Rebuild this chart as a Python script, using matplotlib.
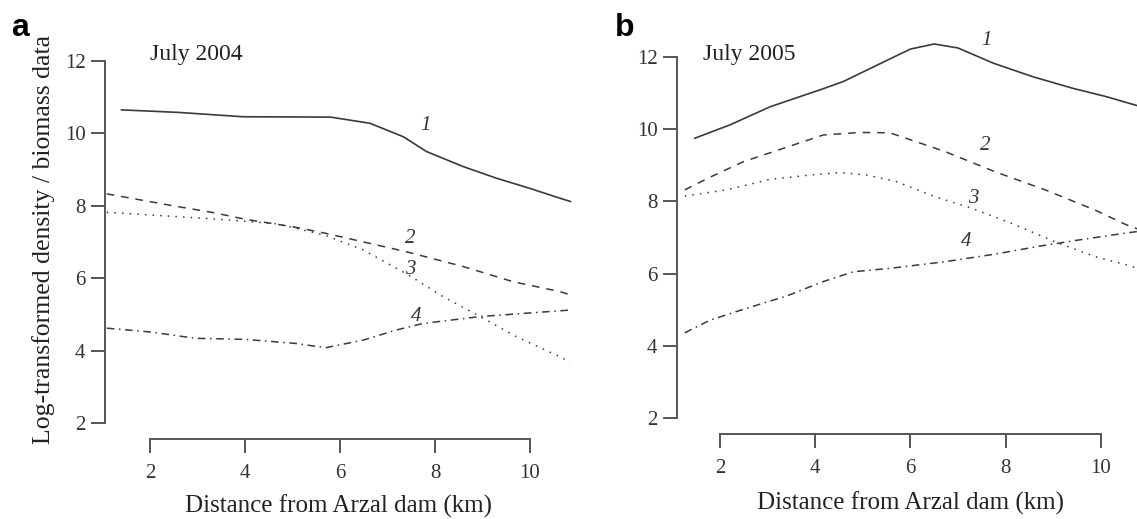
import matplotlib
matplotlib.use("Agg")
import matplotlib.pyplot as plt

plt.rcParams['font.family'] = ['Liberation Serif', 'DejaVu Serif']

# July 2004 (panel a)
xa1 = [1.4, 2.6, 3.96, 5.8, 6.63, 7.33, 7.82, 8.6, 9.3, 10.0, 10.63, 10.85]
ya1 = [10.65, 10.58, 10.46, 10.45, 10.28, 9.91, 9.5, 9.08, 8.76, 8.48, 8.21, 8.12]
xa2 = [1.09, 2.53, 3.3, 4.0, 5.05, 5.7, 7.4, 8.6, 9.65, 10.63, 10.85]
ya2 = [8.33, 7.99, 7.82, 7.63, 7.41, 7.24, 6.73, 6.32, 5.9, 5.63, 5.54]
xa3 = [1.09, 2.59, 3.64, 4.69, 5.7, 6.49, 7.44, 8.17, 8.95, 9.72, 10.63, 10.85]
ya3 = [7.82, 7.7, 7.61, 7.5, 7.18, 6.78, 6.09, 5.49, 4.94, 4.38, 3.83, 3.68]
xa4 = [1.09, 2.04, 2.95, 4.0, 5.05, 5.7, 6.49, 7.19, 7.75, 8.95, 10.63, 10.85]
ya4 = [4.62, 4.51, 4.34, 4.31, 4.2, 4.08, 4.29, 4.57, 4.75, 4.94, 5.1, 5.12]

# July 2005 (panel b)
xb1 = [1.47, 2.21, 3.05, 4.1, 4.59, 5.59, 6.0, 6.5, 7.0, 7.74, 8.58, 9.42, 10.12, 10.85]
yb1 = [9.75, 10.12, 10.62, 11.09, 11.32, 11.96, 12.22, 12.36, 12.25, 11.83, 11.45, 11.13, 10.9, 10.62]
xb2 = [1.26, 1.79, 2.49, 3.4, 4.17, 4.94, 5.57, 6.73, 7.78, 8.83, 9.88, 10.54, 10.85]
yb2 = [8.32, 8.67, 9.1, 9.5, 9.84, 9.91, 9.9, 9.38, 8.82, 8.32, 7.76, 7.35, 7.2]
xb3 = [1.26, 2.14, 3.05, 3.89, 4.52, 5.08, 5.7, 6.52, 7.29, 8.13, 9.04, 9.88, 10.54, 10.85]
yb3 = [8.15, 8.32, 8.61, 8.73, 8.8, 8.73, 8.55, 8.13, 7.81, 7.39, 6.88, 6.47, 6.24, 6.12]
xb4 = [1.26, 1.79, 2.56, 3.4, 4.17, 4.8, 5.6, 6.73, 7.78, 8.76, 9.53, 10.51, 10.85]
yb4 = [4.36, 4.71, 5.04, 5.38, 5.78, 6.05, 6.15, 6.33, 6.54, 6.77, 6.93, 7.12, 7.18]

panels = [
    dict(tag="a", tag_px=11, title="July 2004", title_xy=(2.0, 12.17),
         curves=[(xa1, ya1), (xa2, ya2), (xa3, ya3), (xa4, ya4)],
         labels=[(7.79, 10.23), (7.47, 7.1), (7.47, 6.23), (7.61, 4.94)]),
    dict(tag="b", tag_px=615, title="July 2005", title_xy=(1.64, 12.06),
         curves=[(xb1, yb1), (xb2, yb2), (xb3, yb3), (xb4, yb4)],
         labels=[(7.6, 12.47), (7.57, 9.56), (7.32, 8.09), (7.18, 6.88)]),
]
styles = ["-", (0, (5, 4.5)), (0, (1, 4)), (0, (5, 3, 1, 3))]
line_col = "#3a3a3a"
axis_col = "#555555"

W, H = 1137, 519
fig = plt.figure(figsize=(W / 100, H / 100), dpi=100)

# pixel geometry of each panel: y-spine x, x-axis y, px of x=2, px per km, px of y=12, px per unit
geom = [(105, 439, 150, 47.5, 61, 36.2), (677, 434, 720, 47.6, 57, 36.1)]
xr, yt = 10.9, 12.6

for p, (sx, sy, x2, kx, y12, ky) in zip(panels, geom):
    x0 = 2 + (sx - x2) / kx
    y0 = 12 - (sy - y12) / ky
    right = x2 + (xr - 2) * kx
    top = y12 - (yt - 12) * ky
    ax = fig.add_axes([sx / W, (H - sy) / H, (right - sx) / W, (sy - top) / H])
    ax.set_xlim(x0, xr)
    ax.set_ylim(y0, yt)
    for (xs, ys), ls in zip(p["curves"], styles):
        ax.plot(xs, ys, color=line_col, lw=1.2 if ls == "-" else 1.1, linestyle=ls, clip_on=False)
    for i, (lx, ly) in enumerate(p["labels"]):
        ax.text(lx, ly, str(i + 1), fontsize=15, style="italic", color="#333333",
                ha="center", va="center")
    ax.text(*p["title_xy"], p["title"], fontsize=17, color="#222222", ha="left", va="center")
    for s in ["top", "right"]:
        ax.spines[s].set_visible(False)
    ax.spines["left"].set_bounds(2, 12)
    ax.spines["bottom"].set_bounds(2, 10)
    for s in ["left", "bottom"]:
        ax.spines[s].set_color(axis_col)
        ax.spines[s].set_linewidth(1.4)
    ax.set_xticks([2, 4, 6, 8, 10])
    ax.set_yticks([2, 4, 6, 8, 10, 12])
    ax.tick_params(length=10, width=1.4, color=axis_col, labelsize=15, labelcolor="#333333")
    ax.tick_params(axis="x", pad=8)
    ax.tick_params(axis="y", pad=4)
    ax.set_xlabel("Distance from Arzal dam (km)", fontsize=18, color="#222222",
                  labelpad=8 if p["tag"] == "a" else 10)
    ax.patch.set_alpha(0)
    fig.text(p["tag_px"] / W, 1 - 28 / H, p["tag"], fontsize=23, fontweight="bold",
             family="Liberation Sans", ha="left", va="center")
    if p["tag"] == "a":
        ax.set_ylabel("Log-transformed density / biomass data", fontsize=18.5, color="#222222",
                      labelpad=7)

fig.savefig("out.png", dpi=100)
